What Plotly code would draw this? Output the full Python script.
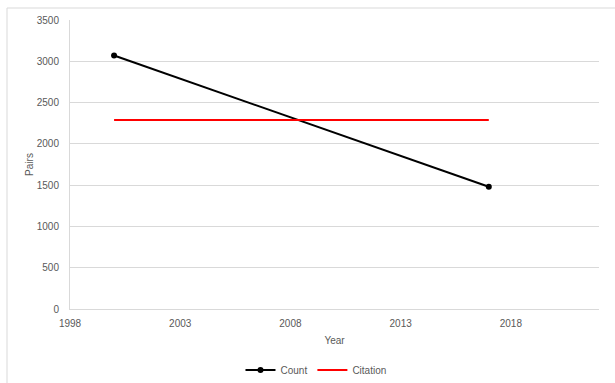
import plotly.graph_objects as go

# Series data
count_years = [2000, 2017]
count_values = [3070, 1480]
citation_years = [2000, 2017]
citation_values = [2290, 2290]

x_ticks = [1998, 2003, 2008, 2013, 2018]
y_ticks = [0, 500, 1000, 1500, 2000, 2500, 3000, 3500]

FONT = "Liberation Sans"
TXT = "#595959"
GRID = "#d9d9d9"

fig = go.Figure()
fig.add_trace(go.Scatter(
    x=count_years, y=count_values, name="Count",
    mode="lines+markers",
    line=dict(color="black", width=2),
    marker=dict(color="black", size=6),
))
fig.add_trace(go.Scatter(
    x=citation_years, y=citation_values, name="Citation",
    mode="lines",
    line=dict(color="#ff0000", width=2),
))

fig.update_layout(
    width=615, height=383,
    margin=dict(l=70, r=16, t=20, b=74, autoexpand=False),
    paper_bgcolor="white", plot_bgcolor="white",
    font=dict(family=FONT, size=10, color=TXT),
    showlegend=True,
    legend=dict(orientation="h", x=0.465, xanchor="center",
                yref="container", y=(383 - 370) / 383, yanchor="middle",
                font=dict(size=10, color=TXT), itemwidth=30,
                tracegroupgap=0),
    xaxis=dict(
        range=[1998, 2022], tickvals=x_ticks, ticktext=[str(v) for v in x_ticks],
        showgrid=False, zeroline=False, showline=True, linecolor=GRID,
        linewidth=1, ticks="", ticklen=0, automargin=False,
        ticklabelstandoff=5,
        title=dict(text="Year", font=dict(size=10, color=TXT), standoff=8),
    ),
    yaxis=dict(
        range=[0, 3500], tickvals=y_ticks, showgrid=True, gridcolor=GRID,
        gridwidth=1, zeroline=False, showline=True, linecolor=GRID,
        linewidth=1, ticks="", ticklen=0, automargin=False,
        ticklabelstandoff=8,
        title=dict(text="Pairs", font=dict(size=10, color=TXT), standoff=1),
    ),
    shapes=[
        # chart frame: top and left edges
        dict(type="line", xref="paper", yref="paper",
             x0=(7 - 70) / 529, x1=(615 - 70) / 529, y0=(309 - 8) / 289, y1=(309 - 8) / 289,
             line=dict(color="#d9d9d9", width=1)),
        dict(type="line", xref="paper", yref="paper",
             x0=(7 - 70) / 529, x1=(7 - 70) / 529, y0=(309 - 8) / 289, y1=(309 - 383) / 289,
             line=dict(color="#d9d9d9", width=1)),
    ],
)

fig.write_html("out.html")
